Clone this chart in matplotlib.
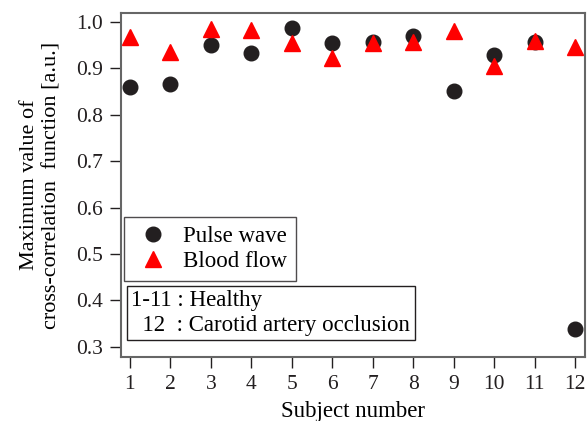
import matplotlib.pyplot as plt
from matplotlib.lines import Line2D

plt.rcParams['font.family'] = ['Liberation Serif', 'DejaVu Serif']
plt.rcParams['font.size'] = 12

subjects = [1, 2, 3, 4, 5, 6, 7, 8, 9, 10, 11, 12]
pulse_wave = [0.860, 0.866, 0.950, 0.933, 0.987, 0.955, 0.956, 0.970, 0.851, 0.928, 0.957, 0.338]
blood_flow = [0.967, 0.936, 0.984, 0.983, 0.955, 0.922, 0.955, 0.957, 0.981, 0.905, 0.958, 0.945]
yticks = [0.3, 0.4, 0.5, 0.6, 0.7, 0.8, 0.9, 1.0]

fig = plt.figure(figsize=(5.87, 4.21), dpi=100)
ax = fig.add_axes([0.206, 0.152, 0.791, 0.817])

ax.plot(subjects, pulse_wave, 'o', color='#231f20', markersize=10.5, linestyle='none', zorder=2)
ax.plot(subjects, blood_flow, '^', color='#ff0000', markersize=11, linestyle='none', zorder=3)

ax.set_xlim(0.78, 12.25)
ax.set_ylim(0.278, 1.019)
ax.set_xticks(subjects)
ax.set_yticks(yticks)
ax.set_yticklabels(['%.1f' % v for v in yticks])
ax.tick_params(direction='out', length=8, width=1, colors='#231f20', labelsize=15.5, pad=5)
for s in ax.spines.values():
    s.set_color('#666666')
    s.set_linewidth(1.5)

ax.set_xlabel('Subject number', fontsize=16.5, labelpad=5)
ax.set_ylabel('Maximum value of\ncross-correlation  function [a.u.]', fontsize=16, labelpad=10, linespacing=1.3)

handles = [Line2D([], [], marker='o', color='#231f20', linestyle='none', markersize=10.5),
           Line2D([], [], marker='^', color='#ff0000', linestyle='none', markersize=11)]
leg = ax.legend(handles, ['Pulse wave', 'Blood flow'], loc='upper left',
                bbox_to_anchor=(0.006, 0.408), fontsize=16.5, frameon=True, fancybox=False,
                borderpad=0.4, handletextpad=0.45, labelspacing=0.18, borderaxespad=0,
                handlelength=1.75)
leg.get_frame().set_edgecolor('#231f20')
leg.get_frame().set_linewidth(1.0)

ax.text(0.022, 0.128, '1-11 : Healthy\n  12  : Carotid artery occlusion', transform=ax.transAxes,
        fontsize=16.5, va='center', ha='left', linespacing=1.2,
        bbox=dict(boxstyle='square,pad=0.2', facecolor='white', edgecolor='#231f20', linewidth=1.0))

fig.savefig('out.png', dpi=100)
